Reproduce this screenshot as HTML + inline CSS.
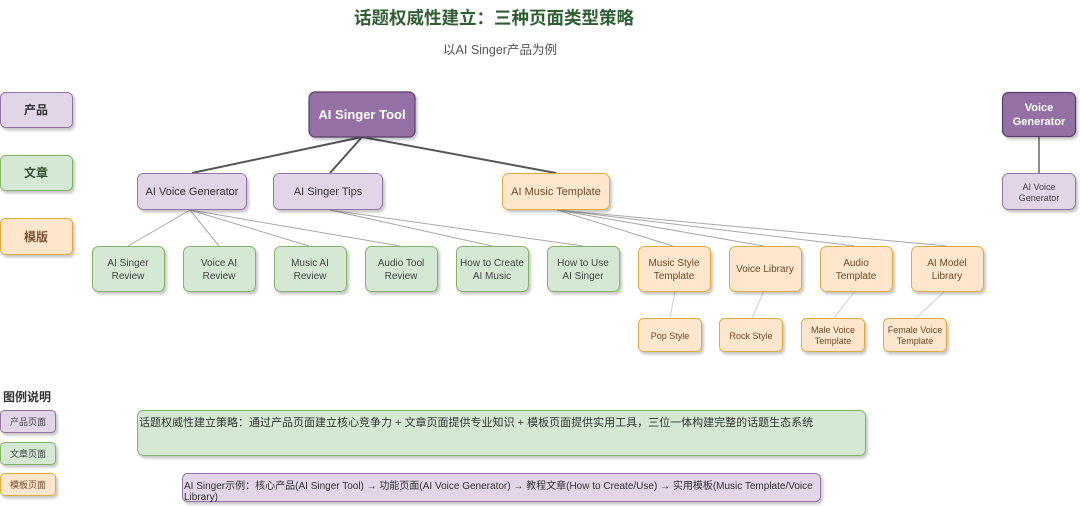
<!DOCTYPE html>
<html>
<head>
<meta charset="utf-8">
<style>
html,body{margin:0;padding:0;background:#fff;}
body{width:1080px;height:506px;overflow:hidden;}
svg{display:block;font-family:"Liberation Sans","Noto Sans CJK SC",sans-serif;}
</style>
</head>
<body>
<svg width="1080" height="506" viewBox="0 0 1080 506" xmlns="http://www.w3.org/2000/svg">
<defs>
<filter id="sh" x="-10%" y="-10%" width="130%" height="140%">
<feDropShadow dx="2" dy="2.5" stdDeviation="1.4" flood-color="#000" flood-opacity="0.22"/>
</filter>
</defs>

<!-- Title -->
<text x="494" y="24" text-anchor="middle" font-size="17.5" font-weight="bold" fill="#2f5d34">话题权威性建立：三种页面类型策略</text>
<text x="500" y="54" text-anchor="middle" font-size="12.5" fill="#555">以AI Singer产品为例</text>

<!-- Legend top-left -->
<g filter="url(#sh)">
<rect x="0.5" y="92.5" width="72" height="35" rx="5" fill="#e1d5e7" stroke="#9673a6"/>
<rect x="0.5" y="155.5" width="72" height="35" rx="5" fill="#d5e8d4" stroke="#82b366"/>
<rect x="0.5" y="218.5" width="72" height="36" rx="5" fill="#ffe6cc" stroke="#e0ab3c"/>
</g>
<text x="36" y="114" text-anchor="middle" font-size="12" font-weight="bold" fill="#333">产品</text>
<text x="36" y="177" text-anchor="middle" font-size="12" font-weight="bold" fill="#2f4f2f">文章</text>
<text x="36" y="241" text-anchor="middle" font-size="12" font-weight="bold" fill="#7a5230">模版</text>

<!-- Edges level 1 -->
<g stroke="#555" stroke-width="2" fill="none">
<line x1="362" y1="137" x2="192" y2="173"/>
<line x1="362" y1="137" x2="330" y2="173"/>
<line x1="362" y1="137" x2="556" y2="173"/>
</g>
<!-- Edges level 2 -->
<g stroke="#a8a8a8" stroke-width="1" fill="none">
<line x1="190" y1="210" x2="128" y2="246"/>
<line x1="190" y1="210" x2="219" y2="246"/>
<line x1="190" y1="210" x2="309" y2="246"/>
<line x1="190" y1="210" x2="400" y2="246"/>
<line x1="330" y1="210" x2="492" y2="246"/>
<line x1="330" y1="210" x2="583" y2="246"/>
<line x1="557" y1="210" x2="673" y2="246"/>
<line x1="557" y1="210" x2="764" y2="246"/>
<line x1="557" y1="210" x2="855" y2="246"/>
<line x1="557" y1="210" x2="947" y2="246"/>
</g>
<!-- Edges level 3 -->
<g stroke="#cfcfcf" stroke-width="1" fill="none">
<line x1="675" y1="291" x2="670" y2="318"/>
<line x1="764" y1="291" x2="752" y2="318"/>
<line x1="855" y1="291" x2="834" y2="318"/>
<line x1="945" y1="291" x2="916" y2="318"/>
</g>
<!-- right edge -->
<line x1="1039" y1="137" x2="1039" y2="173" stroke="#666" stroke-width="1.5"/>

<!-- Nodes -->
<g filter="url(#sh)">
<rect x="309" y="92" width="106" height="45" rx="6" fill="#9470a4" stroke="#5a3d6a" stroke-width="1.2"/>
<rect x="137.5" y="173.5" width="109" height="36" rx="6" fill="#e1d5e7" stroke="#9673a6"/>
<rect x="273.5" y="173.5" width="109" height="36" rx="6" fill="#e1d5e7" stroke="#9673a6"/>
<rect x="502.5" y="173.5" width="107" height="36" rx="6" fill="#ffe6cc" stroke="#e0ab3c"/>

<rect x="92.5" y="246.5" width="72" height="45" rx="6" fill="#d5e8d4" stroke="#82b366"/>
<rect x="183.5" y="246.5" width="72" height="45" rx="6" fill="#d5e8d4" stroke="#82b366"/>
<rect x="274.5" y="246.5" width="72" height="45" rx="6" fill="#d5e8d4" stroke="#82b366"/>
<rect x="365.5" y="246.5" width="72" height="45" rx="6" fill="#d5e8d4" stroke="#82b366"/>
<rect x="456.5" y="246.5" width="72" height="45" rx="6" fill="#d5e8d4" stroke="#82b366"/>
<rect x="547.5" y="246.5" width="72" height="45" rx="6" fill="#d5e8d4" stroke="#82b366"/>
<rect x="638.5" y="246.5" width="72" height="45" rx="6" fill="#ffe6cc" stroke="#e0ab3c"/>
<rect x="729.5" y="246.5" width="72" height="45" rx="6" fill="#ffe6cc" stroke="#e0ab3c"/>
<rect x="820.5" y="246.5" width="72" height="45" rx="6" fill="#ffe6cc" stroke="#e0ab3c"/>
<rect x="911.5" y="246.5" width="72" height="45" rx="6" fill="#ffe6cc" stroke="#e0ab3c"/>

<rect x="638.5" y="318.5" width="63" height="33" rx="5" fill="#ffe6cc" stroke="#e0ab3c"/>
<rect x="719.5" y="318.5" width="63" height="33" rx="5" fill="#ffe6cc" stroke="#e0ab3c"/>
<rect x="801.5" y="318.5" width="63" height="33" rx="5" fill="#ffe6cc" stroke="#e0ab3c"/>
<rect x="883.5" y="318.5" width="63" height="33" rx="5" fill="#ffe6cc" stroke="#e0ab3c"/>

<rect x="1002.5" y="92.5" width="73" height="44" rx="6" fill="#9470a4" stroke="#5a3d6a" stroke-width="1.2"/>
<rect x="1002.5" y="173.5" width="73" height="36" rx="6" fill="#e1d5e7" stroke="#9673a6"/>
</g>

<!-- Node text -->
<text x="362" y="119" text-anchor="middle" font-size="13" font-weight="bold" fill="#fff">AI Singer Tool</text>
<text x="192" y="195" text-anchor="middle" font-size="11" fill="#333">AI Voice Generator</text>
<text x="328" y="195" text-anchor="middle" font-size="11" fill="#333">AI Singer Tips</text>
<text x="556" y="195" text-anchor="middle" font-size="11" fill="#6b4a2a">AI Music Template</text>

<g font-size="10" fill="#444" text-anchor="middle">
<text x="128" y="266">AI Singer</text><text x="128" y="279">Review</text>
<text x="219" y="266">Voice AI</text><text x="219" y="279">Review</text>
<text x="310" y="266">Music AI</text><text x="310" y="279">Review</text>
<text x="401" y="266">Audio Tool</text><text x="401" y="279">Review</text>
<text x="492" y="266">How to Create</text><text x="492" y="279">AI Music</text>
<text x="583" y="266">How to Use</text><text x="583" y="279">AI Singer</text>
</g>
<g font-size="10" fill="#6b4a2a" text-anchor="middle">
<text x="674" y="266">Music Style</text><text x="674" y="279">Template</text>
<text x="765" y="272">Voice Library</text>
<text x="856" y="266">Audio</text><text x="856" y="279">Template</text>
<text x="947" y="266">AI Model</text><text x="947" y="279">Library</text>
</g>
<g font-size="9" fill="#6b4a2a" text-anchor="middle">
<text x="670" y="339">Pop Style</text>
<text x="751" y="339">Rock Style</text>
<text x="833" y="333">Male Voice</text><text x="833" y="344">Template</text>
<text x="915" y="333">Female Voice</text><text x="915" y="344">Template</text>
</g>

<text x="1039" y="111" text-anchor="middle" font-size="11" font-weight="bold" fill="#fff">Voice</text>
<text x="1039" y="125" text-anchor="middle" font-size="11" font-weight="bold" fill="#fff">Generator</text>
<text x="1039" y="190" text-anchor="middle" font-size="9" fill="#444">AI Voice</text>
<text x="1039" y="201" text-anchor="middle" font-size="9" fill="#444">Generator</text>

<!-- Legend bottom -->
<text x="3" y="401" font-size="12" font-weight="bold" fill="#333">图例说明</text>
<g filter="url(#sh)">
<rect x="0.5" y="410.5" width="55" height="22" rx="4" fill="#e1d5e7" stroke="#9673a6"/>
<rect x="0.5" y="442.5" width="55" height="22" rx="4" fill="#d5e8d4" stroke="#82b366"/>
<rect x="0.5" y="473.5" width="55" height="22" rx="4" fill="#ffe6cc" stroke="#e0ab3c"/>
</g>
<text x="28" y="425" text-anchor="middle" font-size="9" fill="#444">产品页面</text>
<text x="28" y="457" text-anchor="middle" font-size="9" fill="#444">文章页面</text>
<text x="28" y="488" text-anchor="middle" font-size="9" fill="#6b4a2a">模板页面</text>

<!-- Strategy box -->
<g filter="url(#sh)">
<rect x="137.5" y="410.5" width="728" height="45" rx="6" fill="#d5e8d4" stroke="#82b366"/>
<rect x="182.5" y="473.5" width="638" height="28" rx="5" fill="#e1d5e7" stroke="#9673a6"/>
</g>
<text x="139" y="426" font-size="11" fill="#333">话题权威性建立策略：通过产品页面建立核心竞争力 + 文章页面提供专业知识 + 模板页面提供实用工具，三位一体构建完整的话题生态系统</text>
<text x="184" y="489" font-size="10" fill="#333">AI Singer示例：核心产品(AI Singer Tool) → 功能页面(AI Voice Generator) → 教程文章(How to Create/Use) → 实用模板(Music Template/Voice</text>
<text x="184" y="500" font-size="10" fill="#333">Library)</text>
</svg>
</body>
</html>
